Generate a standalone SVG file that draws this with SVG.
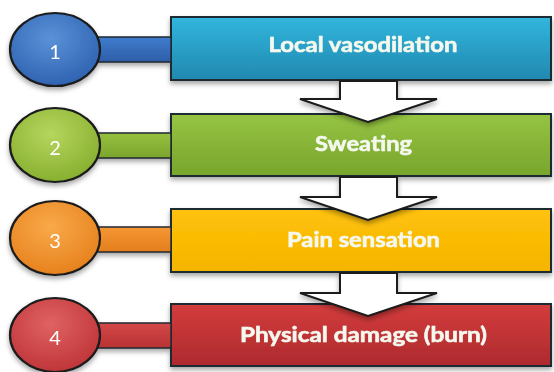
<svg xmlns="http://www.w3.org/2000/svg" width="554" height="372" viewBox="0 0 554 372">
<style>
.box{stroke:#1f2a30;stroke-width:2}
.bar{stroke:#1f2a30;stroke-width:1.5}
.ell{stroke:#1a1a1a;stroke-width:2.2}
.lbl{font-family:Lato,"Liberation Sans",sans-serif;font-weight:bold;font-size:21px;fill:#f4f8ee;stroke:#f4f8ee;stroke-width:0.6;text-anchor:middle}
.num{font-family:Lato,"Liberation Sans",sans-serif;font-size:20px;fill:#ffffff;text-anchor:middle}
.arr{fill:#ffffff;stroke:#1a1a1a;stroke-width:2;stroke-linejoin:miter}
</style>
<defs>
<filter id="sh" x="-10%" y="-20%" width="120%" height="150%">
<feDropShadow dx="0" dy="3" stdDeviation="2.5" flood-color="#000" flood-opacity="0.35"/>
</filter>
<linearGradient id="gB" x1="0" y1="0" x2="0" y2="1"><stop offset="0" stop-color="#31b6dd"/><stop offset="1" stop-color="#2288b0"/></linearGradient>
<linearGradient id="gG" x1="0" y1="0" x2="0" y2="1"><stop offset="0" stop-color="#96c442"/><stop offset="1" stop-color="#78a52c"/></linearGradient>
<linearGradient id="gY" x1="0" y1="0" x2="0" y2="1"><stop offset="0" stop-color="#ffc20a"/><stop offset="1" stop-color="#f5b400"/></linearGradient>
<linearGradient id="gR" x1="0" y1="0" x2="0" y2="1"><stop offset="0" stop-color="#d43c3c"/><stop offset="1" stop-color="#ad2a2e"/></linearGradient>
<radialGradient id="cB" cx="0.45" cy="0.35" r="0.7"><stop offset="0" stop-color="#5a92d8"/><stop offset="1" stop-color="#2c5fae"/></radialGradient>
<radialGradient id="cG" cx="0.45" cy="0.35" r="0.7"><stop offset="0" stop-color="#b6d65e"/><stop offset="1" stop-color="#84ad2c"/></radialGradient>
<radialGradient id="cO" cx="0.45" cy="0.35" r="0.7"><stop offset="0" stop-color="#f9a94a"/><stop offset="1" stop-color="#e57f1a"/></radialGradient>
<radialGradient id="cR" cx="0.45" cy="0.35" r="0.7"><stop offset="0" stop-color="#e06262"/><stop offset="1" stop-color="#bd3236"/></radialGradient>
<linearGradient id="bB" x1="0" y1="0" x2="0" y2="1"><stop offset="0" stop-color="#3f7ccd"/><stop offset="1" stop-color="#2d5ea8"/></linearGradient>
<linearGradient id="bG" x1="0" y1="0" x2="0" y2="1"><stop offset="0" stop-color="#95c03e"/><stop offset="1" stop-color="#7ca52e"/></linearGradient>
<linearGradient id="bO" x1="0" y1="0" x2="0" y2="1"><stop offset="0" stop-color="#f69733"/><stop offset="1" stop-color="#e37e1e"/></linearGradient>
<linearGradient id="bR" x1="0" y1="0" x2="0" y2="1"><stop offset="0" stop-color="#d44848"/><stop offset="1" stop-color="#b83234"/></linearGradient>
</defs>
<rect width="554" height="372" fill="#ffffff"/>

<g id="node1" filter="url(#sh)">
<rect class="box" x="171" y="17" width="380" height="63" fill="url(#gB)"/>
<rect class="bar" x="96" y="37" width="75" height="25" fill="url(#bB)"/>
<ellipse class="ell" cx="55" cy="49.5" rx="45" ry="36.5" fill="url(#cB)"/>
<text class="num" x="55" y="59">1</text>
<text class="lbl" x="363" y="52" textLength="189" lengthAdjust="spacingAndGlyphs">Local vasodilation</text>
</g>
<g id="node2" filter="url(#sh)">
<rect class="box" x="171" y="114" width="380" height="62" fill="url(#gG)"/>
<rect class="bar" x="96" y="133" width="75" height="25" fill="url(#bG)"/>
<ellipse class="ell" cx="55" cy="145" rx="45" ry="37" fill="url(#cG)"/>
<text class="num" x="55" y="155">2</text>
<text class="lbl" x="363.5" y="151" textLength="97" lengthAdjust="spacingAndGlyphs">Sweating</text>
</g>
<g id="node3" filter="url(#sh)">
<rect class="box" x="171" y="209" width="380" height="63" fill="url(#gY)"/>
<rect class="bar" x="96" y="227" width="75" height="25" fill="url(#bO)"/>
<ellipse class="ell" cx="55" cy="238" rx="45" ry="37" fill="url(#cO)"/>
<text class="num" x="55" y="248">3</text>
<text class="lbl" x="363.5" y="247" textLength="153" lengthAdjust="spacingAndGlyphs">Pain sensation</text>
</g>
<g id="node4" filter="url(#sh)">
<rect class="box" x="171" y="304" width="380" height="62" fill="url(#gR)"/>
<rect class="bar" x="96" y="323" width="75" height="25" fill="url(#bR)"/>
<ellipse class="ell" cx="55" cy="335" rx="45" ry="37" fill="url(#cR)"/>
<text class="num" x="55" y="345">4</text>
<text class="lbl" x="363.5" y="342" textLength="247" lengthAdjust="spacingAndGlyphs">Physical damage (burn)</text>
</g>

<g id="connectors" filter="url(#sh)">
<polygon class="arr" points="340,81 397,81 397,99 437,99 368,122 300,99 340,99"/>
<polygon class="arr" points="340,177 397,177 397,197 437,197 368,220 300,197 340,197"/>
<polygon class="arr" points="340,273 397,273 397,293 437,293 368,316 300,293 340,293"/>
</g>
</svg>
